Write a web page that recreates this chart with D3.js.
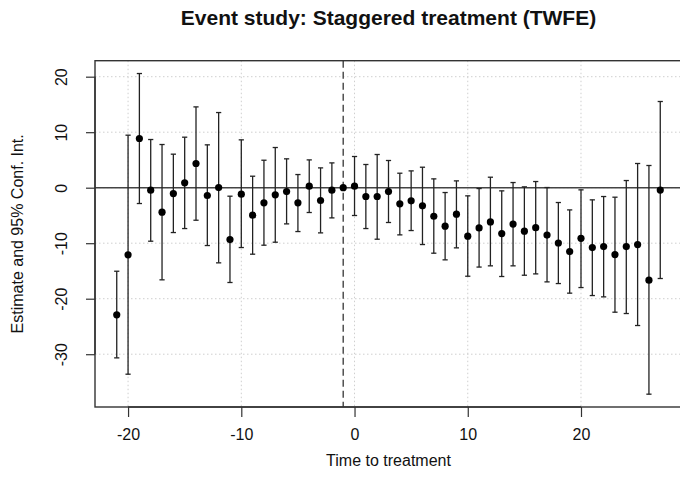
<!DOCTYPE html>
<html lang="en">
<head>
<meta charset="UTF-8">
<title>Event study: Staggered treatment (TWFE)</title>
<script src="https://cdn.jsdelivr.net/npm/d3@7"></script>
<style>
  body { margin: 0; background: #fff; }
  svg text { font-family: "Liberation Sans", Arial, Helvetica, sans-serif; fill: #111; }
  .grid line { stroke: #cfcfcf; stroke-width: 1; stroke-dasharray: 1.5,2.5; }
  .bar { stroke: #222; stroke-width: 1.3; }
</style>
</head>
<body>
<div id="chart"></div>
<script>
// event time relative to treatment (-1 is the reference period)
var eventTime = [-21, -20, -19, -18, -17, -16, -15, -14, -13, -12, -11, -10, -9, -8, -7, -6, -5, -4, -3, -2, -1,
                 0, 1, 2, 3, 4, 5, 6, 7, 8, 9, 10, 11, 12, 13, 14, 15, 16, 17, 18, 19, 20, 21, 22, 23, 24, 25, 26, 27];
var estimate = [-22.9, -12.1, 8.86, -0.45, -4.41, -1.05, 0.87, 4.36, -1.41, 0.03, -9.34, -1.17, -4.95, -2.73, -1.29, -0.7, -2.73, 0.27, -2.31, -0.45, 0,
                0.27, -1.59, -1.59, -0.69, -2.91, -2.37, -3.27, -5.14, -6.94, -4.77, -8.74, -7.24, -6.16, -8.26, -6.55, -7.84, -7.2, -8.53, -9.96, -11.5, -9.13, -10.78, -10.6, -12.04, -10.6, -10.24, -16.67, -0.43];
var ciLow = [-30.66, -33.6, -2.85, -9.64, -16.6, -8.08, -7.36, -5.86, -10.42, -13.54, -17.08, -10.78, -11.98, -10.36, -9.82, -6.52, -7.9, -4.47, -8.14, -5.44, null,
             -5.01, -7.36, -9.28, -6.27, -8.5, -7.72, -10.24, -11.8, -13.0, -10.84, -15.95, -14.3, -14.08, -16.0, -14.08, -15.77, -15.53, -16.97, -17.27, -19.0, -17.99, -19.43, -19.67, -22.43, -22.67, -24.83, -37.2, -16.36];
var ciHigh = [-15.05, 9.46, 20.57, 8.68, 7.78, 6.04, 9.1, 14.56, 7.72, 13.54, -1.53, 8.62, 2.07, 4.95, 7.24, 5.2, 2.37, 5.01, 3.57, 4.47, null,
              5.62, 4.18, 5.98, 4.9, 2.61, 3.03, 3.69, 1.59, -0.87, 1.23, -1.47, -0.15, 1.89, -0.57, 0.93, 0.15, 1.11, 0.03, -2.67, -4.0, -0.39, -2.19, -1.59, -1.71, 1.29, 4.36, 4.0, 15.53];
var xTicks = [-20, -10, 0, 10, 20];
var yTicks = [20, 10, 0, -10, -20, -30];
var refPeriod = -1;

var width = 680, height = 496;
var margin = {top: 60.7, right: -2, bottom: 89, left: 95};

var svg = d3.select("#chart").append("svg")
    .attr("width", width)
    .attr("height", height);

// R-style axis limits: data range padded by 4% on each side
function pad(ext) {
    var d = (ext[1] - ext[0]) * 0.04;
    return [ext[0] - d, ext[1] + d];
}
var lows = ciLow.filter(function(v) { return v !== null; });
var highs = ciHigh.filter(function(v) { return v !== null; });

var x = d3.scaleLinear()
    .domain(pad(d3.extent(eventTime)))
    .range([margin.left, width - margin.right]);
var y = d3.scaleLinear()
    .domain(pad([d3.min(lows.concat(estimate)), d3.max(highs.concat(estimate))]))
    .range([height - margin.bottom, margin.top]);

var x0 = x.range()[0], x1 = x.range()[1];
var y0 = y.range()[0], y1 = y.range()[1];

// dotted grid
var grid = svg.append("g").attr("class", "grid");
grid.selectAll("line.v").data(xTicks).enter().append("line")
    .attr("class", "v")
    .attr("x1", function(d) { return x(d); }).attr("x2", function(d) { return x(d); })
    .attr("y1", y1).attr("y2", y0);
grid.selectAll("line.h").data(yTicks).enter().append("line")
    .attr("class", "h")
    .attr("x1", x0).attr("x2", x1)
    .attr("y1", function(d) { return y(d); }).attr("y2", function(d) { return y(d); });

// zero line and reference period
svg.append("line")
    .attr("x1", x0).attr("x2", x1)
    .attr("y1", y(0)).attr("y2", y(0))
    .attr("stroke", "#444").attr("stroke-width", 1.4);
svg.append("line")
    .attr("x1", x(refPeriod)).attr("x2", x(refPeriod))
    .attr("y1", y1).attr("y2", y0)
    .attr("stroke", "#444").attr("stroke-width", 1.4)
    .attr("stroke-dasharray", "7,4");

// error bars
var rows = eventTime.map(function(t, i) {
    return {t: t, est: estimate[i], lo: ciLow[i], hi: ciHigh[i]};
});
var withCI = rows.filter(function(d) { return d.lo !== null; });
var cap = 2.6;

var bars = svg.append("g");
bars.selectAll("line.stem").data(withCI).enter().append("line")
    .attr("class", "bar stem")
    .attr("x1", function(d) { return x(d.t); }).attr("x2", function(d) { return x(d.t); })
    .attr("y1", function(d) { return y(d.lo); }).attr("y2", function(d) { return y(d.hi); });
bars.selectAll("line.capHi").data(withCI).enter().append("line")
    .attr("class", "bar capHi")
    .attr("x1", function(d) { return x(d.t) - cap; }).attr("x2", function(d) { return x(d.t) + cap; })
    .attr("y1", function(d) { return y(d.hi); }).attr("y2", function(d) { return y(d.hi); });
bars.selectAll("line.capLo").data(withCI).enter().append("line")
    .attr("class", "bar capLo")
    .attr("x1", function(d) { return x(d.t) - cap; }).attr("x2", function(d) { return x(d.t) + cap; })
    .attr("y1", function(d) { return y(d.lo); }).attr("y2", function(d) { return y(d.lo); });

// point estimates
svg.append("g").selectAll("circle").data(rows).enter().append("circle")
    .attr("cx", function(d) { return x(d.t); })
    .attr("cy", function(d) { return y(d.est); })
    .attr("r", 3.6)
    .attr("fill", "#000");

// box
svg.append("rect")
    .attr("x", x0).attr("y", y1)
    .attr("width", x1 - x0).attr("height", y0 - y1)
    .attr("fill", "none").attr("stroke", "#333").attr("stroke-width", 1.4);

// x axis
var xAxis = svg.append("g")
    .attr("transform", "translate(0," + y0 + ")")
    .call(d3.axisBottom(x).tickValues(xTicks).tickSize(10).tickPadding(12).tickFormat(d3.format("d")));
xAxis.select(".domain").attr("d", "M" + x(xTicks[0]) + ",0H" + x(xTicks[xTicks.length - 1]))
    .attr("stroke", "#333").attr("stroke-width", 1.4);
xAxis.selectAll(".tick line").attr("stroke", "#333").attr("stroke-width", 1.2);
xAxis.selectAll(".tick text")
    .style("font-family", "'Liberation Sans', Arial, sans-serif")
    .style("font-size", "16px").attr("fill", "#111")
    .text(function(d) { return d < 0 ? "-" + Math.abs(d) : d; });

// y axis, labels turned like R's default
var yAxis = svg.append("g")
    .attr("transform", "translate(" + x0 + ",0)")
    .call(d3.axisLeft(y).tickValues(yTicks).tickSize(9).tickFormat(function(d) { return d < 0 ? "-" + Math.abs(d) : d; }));
yAxis.select(".domain").attr("d", "M0," + y(yTicks[0]) + "V" + y(yTicks[yTicks.length - 1]))
    .attr("stroke", "#333").attr("stroke-width", 1.4);
yAxis.selectAll(".tick line").attr("stroke", "#333").attr("stroke-width", 1.2);
yAxis.selectAll(".tick text")
    .style("font-family", "'Liberation Sans', Arial, sans-serif")
    .style("font-size", "16px").attr("fill", "#111")
    .attr("x", null).attr("dy", null)
    .attr("text-anchor", "middle")
    .attr("transform", "translate(-28,0) rotate(-90)");

// titles
svg.append("text")
    .attr("x", (x0 + x1) / 2).attr("y", 25)
    .attr("text-anchor", "middle")
    .style("font-size", "21px").style("font-weight", "bold")
    .text("Event study: Staggered treatment (TWFE)");
svg.append("text")
    .attr("x", (x0 + x1) / 2).attr("y", 466)
    .attr("text-anchor", "middle")
    .style("font-size", "16px")
    .text("Time to treatment");
svg.append("text")
    .attr("transform", "translate(23," + ((y0 + y1) / 2) + ") rotate(-90)")
    .attr("text-anchor", "middle")
    .style("font-size", "16px")
    .text("Estimate and 95% Conf. Int.");
</script>
</body>
</html>
